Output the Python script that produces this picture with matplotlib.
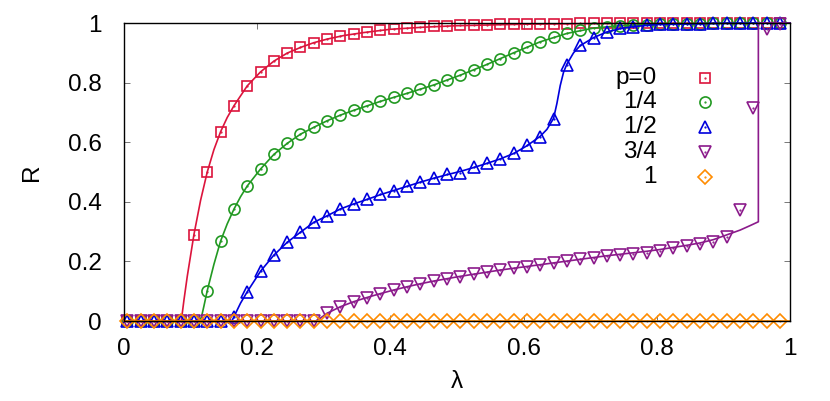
import numpy as np
import matplotlib
matplotlib.use("Agg")
import matplotlib.pyplot as plt

plt.rcParams['font.family'] = ['Liberation Sans', 'DejaVu Sans']

# simulation points (lambda) and the measured R for each p
lam = [0.005, 0.025, 0.045, 0.065, 0.085, 0.105, 0.125, 0.145, 0.165, 0.185,
       0.205, 0.225, 0.245, 0.265, 0.285, 0.305, 0.325, 0.345, 0.365, 0.385,
       0.405, 0.425, 0.445, 0.465, 0.485, 0.505, 0.525, 0.545, 0.565, 0.585,
       0.605, 0.625, 0.645, 0.665, 0.685, 0.705, 0.725, 0.745, 0.765, 0.785,
       0.805, 0.825, 0.845, 0.865, 0.885, 0.905, 0.925, 0.945, 0.965, 0.985]

R_p0 = [0, 0, 0, 0, 0, 0.29, 0.50, 0.635, 0.722, 0.789,
        0.836, 0.872, 0.899, 0.918, 0.934, 0.946, 0.956, 0.963, 0.970, 0.976,
        0.980, 0.984, 0.987, 0.989, 0.991, 0.993, 0.994, 0.995, 0.996, 0.997,
        0.997, 0.998, 0.998, 0.998, 0.999, 0.999, 0.999, 0.999, 0.999, 1.0,
        1.0, 1.0, 1.0, 1.0, 1.0, 1.0, 1.0, 1.0, 1.0, 1.0]

R_p14 = [0, 0, 0, 0, 0, 0, 0.102, 0.268, 0.375, 0.453,
         0.51, 0.559, 0.596, 0.627, 0.650, 0.672, 0.691, 0.708, 0.721, 0.737,
         0.751, 0.764, 0.779, 0.792, 0.808, 0.825, 0.842, 0.861, 0.880, 0.900,
         0.919, 0.937, 0.952, 0.965, 0.976, 0.983, 0.988, 0.991, 0.993, 0.995,
         0.996, 0.997, 0.998, 0.998, 0.999, 0.999, 0.999, 1.0, 1.0, 1.0]

R_p12 = [0, 0, 0, 0, 0, 0, 0, 0, 0.014, 0.098,
         0.167, 0.221, 0.264, 0.298, 0.331, 0.353, 0.376, 0.393, 0.408, 0.425,
         0.437, 0.453, 0.465, 0.480, 0.493, 0.498, 0.516, 0.531, 0.544, 0.563,
         0.591, 0.618, 0.679, 0.859, 0.925, 0.951, 0.971, 0.982, 0.988, 0.993,
         0.996, 0.997, 0.998, 0.998, 0.999, 0.999, 1.0, 1.0, 1.0, 1.0]

R_p34 = [0, 0, 0, 0, 0, 0, 0, 0, 0, 0,
         0, 0, 0, 0, 0, 0.026, 0.048, 0.065, 0.078, 0.091,
         0.104, 0.115, 0.124, 0.134, 0.141, 0.149, 0.157, 0.165, 0.171, 0.177,
         0.182, 0.188, 0.194, 0.201, 0.207, 0.212, 0.218, 0.220, 0.225, 0.229,
         0.236, 0.244, 0.252, 0.257, 0.266, 0.281, 0.372, 0.714, 0.98, 0.996]

R_p1 = [0] * 50

# theory curves
th_lam_p0 = [0, 0.086, 0.09, 0.095, 0.1, 0.105, 0.115, 0.125, 0.135, 0.145,
             0.155, 0.165, 0.185, 0.205, 0.225, 0.245, 0.265, 0.285, 0.305,
             0.33, 0.36, 0.40, 0.45, 0.5, 0.6, 0.7, 0.8, 1.0]
th_R_p0 = [0, 0, 0.07, 0.15, 0.22, 0.29, 0.405, 0.50, 0.575, 0.635,
           0.683, 0.722, 0.789, 0.836, 0.872, 0.899, 0.918, 0.934, 0.946,
           0.958, 0.968, 0.979, 0.986, 0.991, 0.996, 0.998, 0.999, 1.0]

th_lam_p14 = [0, 0.114, 0.117, 0.12, 0.125, 0.135, 0.145, 0.155, 0.165, 0.175,
              0.185, 0.205, 0.225, 0.245, 0.265, 0.285, 0.305, 0.325, 0.345,
              0.385, 0.425, 0.465, 0.505, 0.545, 0.585, 0.625, 0.665, 0.705,
              0.745, 0.8, 0.9, 1.0]
th_R_p14 = [0, 0, 0.02, 0.05, 0.102, 0.19, 0.268, 0.326, 0.375, 0.417,
            0.453, 0.51, 0.559, 0.596, 0.627, 0.650, 0.672, 0.691, 0.707,
            0.737, 0.764, 0.792, 0.825, 0.861, 0.900, 0.937, 0.965, 0.983,
            0.991, 0.996, 0.999, 1.0]

th_lam_p12 = [0, 0.162, 0.165, 0.175, 0.185, 0.205, 0.225, 0.245, 0.265, 0.285,
              0.305, 0.325, 0.345, 0.365, 0.385, 0.405, 0.425, 0.445, 0.465,
              0.485, 0.505, 0.525, 0.545, 0.565, 0.585, 0.605, 0.625, 0.635,
              0.645, 0.65, 0.655, 0.66, 0.665, 0.675, 0.685, 0.705, 0.725,
              0.745, 0.765, 0.8, 0.9, 1.0]
th_R_p12 = [0, 0, 0.014, 0.06, 0.098, 0.167, 0.221, 0.264, 0.298, 0.331,
            0.353, 0.376, 0.393, 0.408, 0.424, 0.438, 0.452, 0.466, 0.479,
            0.491, 0.502, 0.515, 0.529, 0.544, 0.562, 0.588, 0.62, 0.643,
            0.68, 0.73, 0.79, 0.835, 0.862, 0.9, 0.924, 0.951, 0.97,
            0.981, 0.988, 0.995, 0.999, 1.0]

th_lam_p34 = [0, 0.288, 0.295, 0.305, 0.325, 0.345, 0.365, 0.385, 0.405, 0.425,
              0.445, 0.465, 0.485, 0.505, 0.525, 0.545, 0.565, 0.585, 0.605,
              0.625, 0.645, 0.665, 0.685, 0.705, 0.725, 0.745, 0.765, 0.785,
              0.805, 0.825, 0.845, 0.865, 0.885, 0.905, 0.925, 0.94, 0.9525,
              0.9525, 1.0]
th_R_p34 = [0, 0, 0.01, 0.026, 0.048, 0.065, 0.079, 0.092, 0.104, 0.115,
            0.125, 0.134, 0.142, 0.150, 0.157, 0.164, 0.171, 0.177, 0.183,
            0.189, 0.195, 0.201, 0.207, 0.213, 0.219, 0.224, 0.229, 0.234,
            0.240, 0.247, 0.254, 0.262, 0.273, 0.289, 0.305, 0.32, 0.333,
            1.0, 1.0]

th_lam_p1 = [0, 1.0]
th_R_p1 = [0, 0]

labels = ['p=0', '1/4', '1/2', '3/4', '1']
colors = ['#dc143c', '#229922', '#0000dd', '#8b1a8b', '#ff8c00']
markers = ['s', 'o', '^', 'v', 'D']
msizes = [7.5, 8, 9, 9, 7.2]

series = [(R_p0, th_lam_p0, th_R_p0),
          (R_p14, th_lam_p14, th_R_p14),
          (R_p12, th_lam_p12, th_R_p12),
          (R_p34, th_lam_p34, th_R_p34),
          (R_p1, th_lam_p1, th_R_p1)]

fig = plt.figure(figsize=(8.3, 4.01), dpi=100)
ax = fig.add_axes([0.1494, 0.1995, 0.8024, 0.7431])

for i, (pts, tl, tr) in enumerate(series):
    c = colors[i]
    ax.plot(tl, tr, '-', color=c, lw=1.2, zorder=2 + i * 0.1, clip_on=False)
    ax.plot(lam, pts, linestyle='none', marker=markers[i], ms=msizes[i],
            mfc='none', mec=c, mew=1.2, zorder=2.05 + i * 0.1, clip_on=False)
    ax.plot(lam, pts, linestyle='none', marker='.', ms=1.2, color=c,
            zorder=2.05 + i * 0.1, clip_on=False)

# gnuplot-style key: text right-aligned, then the symbol
for i, lab in enumerate(labels):
    y = 0.817 - i * 0.0832
    ax.text(0.800, y, lab, transform=ax.transAxes, ha='right', va='center',
            fontsize=17.5)
    ax.plot([0.872], [y], transform=ax.transAxes, linestyle='none',
            marker=markers[i], ms=msizes[i], mfc='none', mec=colors[i], mew=1.2)
    ax.plot([0.872], [y], transform=ax.transAxes, linestyle='none',
            marker='.', ms=1.2, color=colors[i])

ax.set_xlim(0, 1)
ax.set_ylim(0, 1)
ticks = [0, 0.2, 0.4, 0.6, 0.8, 1]
tick_labels = ['0', '0.2', '0.4', '0.6', '0.8', '1']
ax.set_xticks(ticks)
ax.set_xticklabels(tick_labels)
ax.set_yticks(ticks)
ax.set_yticklabels(tick_labels)
ax.tick_params(direction='in', length=4.5, width=0.7, color='#777777',
               top=True, right=True, labelsize=17.5)
ax.tick_params(axis='x', pad=12)
ax.tick_params(axis='y', pad=16)
for s in ax.spines.values():
    s.set_linewidth(1.0)
    s.set_zorder(3)

ax.set_xlabel('λ', fontsize=17.5, labelpad=8)
ax.set_ylabel('R', fontsize=17.5, labelpad=18)

fig.savefig('out.png', dpi=100)
